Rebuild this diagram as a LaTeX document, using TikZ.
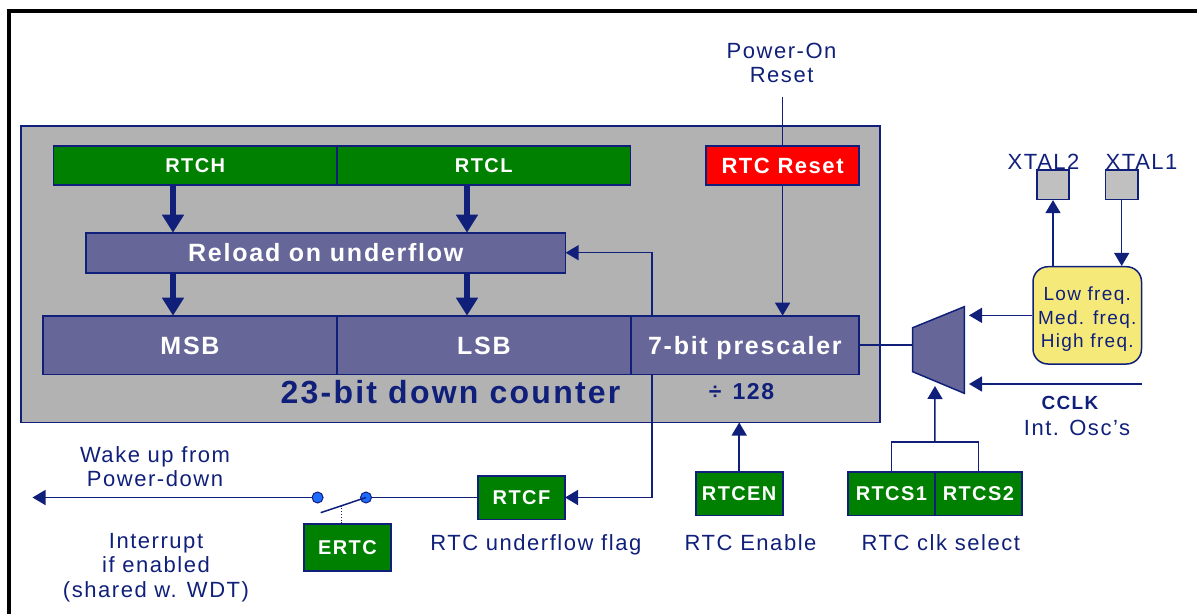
\documentclass[tikz,border=0pt]{standalone}
\usepackage{fontspec}
\setmainfont{Liberation Sans}[LetterSpace=7]
\usetikzlibrary{arrows.meta,positioning,calc}
\definecolor{linecol}{HTML}{10207A}
\definecolor{cntgray}{HTML}{B2B2B2}
\definecolor{regblue}{HTML}{666699}
\definecolor{reggreen}{HTML}{008000}
\definecolor{rstred}{HTML}{FF0000}
\definecolor{oscyellow}{HTML}{F5E97A}
\definecolor{padgray}{HTML}{C0C0C0}
\definecolor{dotblue}{HTML}{1E6BFF}

\begin{document}
\begin{tikzpicture}[x=1pt,y=-1pt,
  wire/.style={draw=linecol,line width=1.5pt},
  arr/.style={wire,-{Triangle[length=13pt,width=15pt]}},
  bigarr/.style={draw=linecol,line width=5.5pt,-{Triangle[length=18pt,width=21pt]}},
  reg/.style={draw=linecol,line width=1.6pt,inner sep=0pt,outer sep=0pt,text=white},
  greenreg/.style={reg,fill=reggreen,font=\fontsize{20}{24}\selectfont\bfseries,text height=14.4pt,text depth=0pt},
  flagbox/.style={greenreg,minimum width=87pt,minimum height=43.6pt},
  bluereg/.style={reg,fill=regblue,minimum height=58.6pt,font=\fontsize{25}{30}\selectfont\bfseries,text height=18pt,text depth=0pt},
  lbl/.style={inner sep=0pt,text=linecol,font=\fontsize{22}{24}\selectfont},
  dot/.style={circle,draw=linecol,line width=1pt,fill=dotblue,minimum size=11pt,inner sep=0pt}]
  \useasboundingbox (0,0) rectangle (1197,614);
  \draw[line width=3.4pt] (8.8,614) -- (8.8,11) -- (1197,11);

  % counter block
  \node[draw=linecol,line width=1.5pt,fill=cntgray,minimum width=859pt,minimum height=296.5pt,inner sep=0pt,outer sep=0pt] (cnt) at (450.5,274.25) {};
  \node[greenreg,minimum width=283.4pt,minimum height=39pt] (rtch) at (195.3,165.5) {RTCH};
  \node[greenreg,minimum width=293.5pt,minimum height=39pt,right=0pt of rtch] (rtcl) {RTCL};
  \node[reg,fill=rstred,minimum width=153.3pt,minimum height=39pt,font=\fontsize{22}{26}\selectfont\bfseries,text height=15.8pt,text depth=0pt] (rst) at (782.6,165.5) {RTC Reset};
  \node[bluereg,minimum width=479.6pt,minimum height=40pt] (reload) at (325.8,252.7) {Reload on underflow};
  \node[flagbox] (rtcf) at (521.5,497.5) {RTCF};

  \coordinate (fb) at (652,497.5);
  \draw[arr] (fb) |- (reload.east);
  \draw[arr] (fb) -- (rtcf.east);

  \node[bluereg,minimum width=294pt] (msb) at (190,345) {MSB};
  \node[bluereg,minimum width=293.7pt,right=0pt of msb] (lsb) {LSB};
  \node[bluereg,minimum width=228.3pt,right=0pt of lsb] (pre) {7-bit prescaler};
  \node[inner sep=0pt,anchor=base,text=linecol,font=\fontsize{32}{36}\selectfont\bfseries] (cntlbl) at (450.5,403.3) {23-bit down counter};
  \node[inner sep=0pt,anchor=base,text=linecol,font=\fontsize{23}{26}\selectfont\bfseries] (divlbl) at (741.5,399.3) {÷\hspace{11pt}128};

  \coordinate (hx) at (173,0);
  \coordinate (lx) at (467,0);
  \draw[bigarr] (hx |- rtch.south) -- (hx |- reload.north);
  \draw[bigarr] (lx |- rtcl.south) -- (lx |- reload.north);
  \draw[bigarr] (hx |- reload.south) -- (hx |- msb.north);
  \draw[bigarr] (lx |- reload.south) -- (lx |- lsb.north);

  \draw[wire] (rst.north) -- ++(0,-49.3);
  \draw[arr] (rst.south) -- (rst.south |- pre.north);
  \node[lbl,align=center,anchor=north,font=\fontsize{22}{23.4}\selectfont] (por) at (781.6,43.3) {Power-On\\Reset};

  % clock select
  \draw[wire,fill=regblue] (912.7,327.7) -- (964.3,306.7) -- (964.3,393.3) -- (912.7,371.7) -- cycle;
  \coordinate (muxin) at (912.7,345);
  \coordinate (muxr) at (969,0);
  \coordinate (muxs) at (935,386);
  \draw[wire] (pre.east) -- (muxin);

  \node[draw=linecol,line width=1.5pt,fill=oscyellow,rounded corners=15pt,minimum width=108.5pt,minimum height=97.3pt,inner sep=0pt,align=center,text=linecol,font=\fontsize{19}{23.5}\selectfont] (freq) at (1087.25,315.35) {\rule{0pt}{22pt}Low freq.\\Med. freq.\\High freq.};
  \draw[arr] (freq.west) -- (freq.west -| muxr);
  \coordinate (cclkin) at (1141.5,384);
  \draw[arr] (cclkin) -- (cclkin -| muxr);
  \node[inner sep=0pt,anchor=base,text=linecol,font=\fontsize{19}{22}\selectfont\bfseries] (cclk) at (1070,409) {CCLK};
  \node[lbl,anchor=base] (intosc) at (1077,435.7) {Int. Osc’s};

  \node[draw=linecol,line width=1.5pt,fill=padgray,minimum width=32.4pt,minimum height=29.3pt,inner sep=0pt] (xt2) at (1053,184.7) {};
  \node[draw=linecol,line width=1.5pt,fill=padgray,minimum width=32.7pt,minimum height=29.3pt,inner sep=0pt] (xt1) at (1121.7,184.7) {};
  \node[lbl,anchor=base west] (xt2lbl) at (1007.5,169.5) {XTAL2};
  \node[lbl,anchor=base west] (xt1lbl) at (1105.5,169.5) {XTAL1};
  \draw[arr] (xt2.south |- freq.north) -- (xt2.south);
  \draw[arr] (xt1.south) -- (xt1.south |- freq.north);

  \node[flagbox] (rtcs1) at (891.35,493.5) {RTCS1};
  \node[flagbox,right=0pt of rtcs1] (rtcs2) {RTCS2};
  \coordinate (sel) at ($(rtcs1.north east)+(0,-29.7)$);
  \draw[wire] (rtcs1.north) |- (sel) -| (rtcs2.north);
  \draw[arr] (sel) -- (muxs);
  \node[lbl,anchor=base] (sellbl) at (940.8,550) {RTC clk select};

  \node[flagbox] (rtcen) at (739.2,493.5) {RTCEN};
  \draw[arr] (rtcen.north) -- (rtcen.north |- cnt.south);
  \node[lbl,anchor=base] (enalbl) at (750.6,550) {RTC Enable};

  % interrupt switch
  \node[lbl,anchor=base] (flaglbl) at (535.8,550.7) {RTC underflow flag};
  \node[dot] (d1) at (317.6,497.5) {};
  \node[dot] (d2) at (366,497.5) {};
  \coordinate (wk) at (32.5,497.5);
  \coordinate (lever) at (320.7,512.7);
  \draw[wire] (rtcf.west) -- (d2);
  \draw[arr] (d1) -- (wk);
  \draw[wire] (d2.center) -- (lever);
  \node[flagbox,minimum height=47pt] (ertc) at (347.5,547.5) {ERTC};
  \coordinate (sw) at ($(d2.center)!0.534!(lever)$);
  \draw[draw=linecol,line width=0.8pt,dotted] (sw) -- (sw |- ertc.north);
  \node[lbl,align=center,anchor=north] (wake) at (155,446.7) {Wake up from\\Power-down};
  \node[lbl,align=center,anchor=north,font=\fontsize{22}{24.2}\selectfont] (irq) at (156,533.3) {Interrupt\\if enabled\\(shared w. WDT)};
\end{tikzpicture}
\end{document}
